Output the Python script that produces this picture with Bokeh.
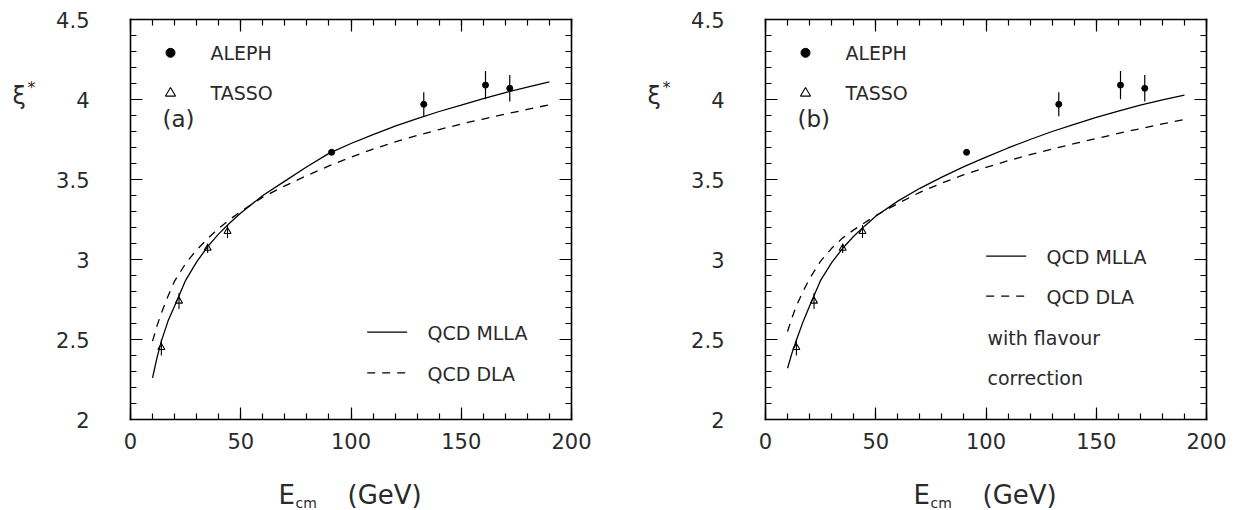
from bokeh.plotting import figure
from bokeh.models import Range1d, FixedTicker, LinearAxis, Label
from bokeh.layouts import row
from bokeh.embed import file_html
from bokeh.resources import INLINE

# ---------------- data ----------------
aleph_E = [91.2, 133.0, 161.0, 172.0]
aleph_xi = [3.67, 3.97, 4.09, 4.07]
aleph_err = [0.01, 0.075, 0.088, 0.083]

tasso_E = [14.0, 22.0, 35.0, 44.0]
tasso_xi = [2.45, 2.74, 3.07, 3.175]
tasso_err = [0.05, 0.05, 0.03, 0.04]

curve_E = [10, 12, 14, 17, 20, 25, 30, 35, 40, 45, 50, 60, 70, 80, 90,
           100, 110, 120, 130, 140, 150, 160, 170, 180, 190]
mlla_a = [2.26, 2.385, 2.49, 2.615, 2.71, 2.87, 2.985, 3.08, 3.16, 3.228, 3.29,
          3.40, 3.49, 3.58, 3.663, 3.725, 3.78, 3.833, 3.88, 3.925, 3.965,
          4.005, 4.043, 4.078, 4.11]
dla_a = [2.49, 2.585, 2.665, 2.77, 2.865, 2.975, 3.06, 3.13, 3.195, 3.25, 3.30,
         3.39, 3.46, 3.525, 3.585, 3.64, 3.69, 3.735, 3.775, 3.812, 3.847,
         3.878, 3.909, 3.938, 3.967]
mlla_b = [2.32, 2.415, 2.495, 2.61, 2.71, 2.87, 2.98, 3.07, 3.145, 3.21, 3.27,
          3.365, 3.445, 3.515, 3.58, 3.64, 3.697, 3.75, 3.80, 3.845, 3.888,
          3.928, 3.965, 3.997, 4.027]
dla_b = [2.55, 2.635, 2.71, 2.80, 2.88, 2.99, 3.07, 3.135, 3.185, 3.23, 3.275,
         3.35, 3.42, 3.478, 3.53, 3.576, 3.617, 3.655, 3.69, 3.724, 3.756,
         3.788, 3.818, 3.847, 3.875]

x_ticks = [0, 50, 100, 150, 200]
x_tick_labels = ["0", "50", "100", "150", "200"]
y_ticks = [2, 2.5, 3, 3.5, 4, 4.5]
y_tick_labels = ["2", "2.5", "3", "3.5", "4", "4.5"]

FONT = "DejaVu Sans"
TXT = "#2a2a2a"

X0, X1, Y0, Y1 = 0, 200, 2, 4.5
H = 510
FTOP, FBOT = 19, 419          # frame top/bottom (canvas px)
FW = 441                      # frame width px
SX = FW / (X1 - X0)           # px per GeV
SY = (FBOT - FTOP) / (Y1 - Y0)  # px per unit


def make_panel(mlla, dla, tag, W, L, variant):
    def dx(cx):
        return X0 + (cx - L) / SX

    def dy(cy):
        return Y0 + (FBOT - cy) / SY

    p = figure(width=W, height=H,
               x_range=Range1d(dx(0), dx(W)), y_range=Range1d(dy(H), dy(0)),
               x_axis_type=None, y_axis_type=None, min_border=0,
               output_backend="svg", toolbar_location=None)
    p.grid.visible = False
    p.outline_line_color = None

    xminor = [v for v in range(0, 201, 10)]
    yminor = [round(2 + 0.1 * i, 2) for i in range(26)]

    def mk_axis(ticks, minor, loc, bounds, show, overrides):
        ax = LinearAxis(ticker=FixedTicker(ticks=ticks, minor_ticks=minor),
                        fixed_location=loc, bounds=bounds)
        ax.major_tick_in = 12
        ax.major_tick_out = 0
        ax.minor_tick_in = 6
        ax.minor_tick_out = 0
        ax.axis_line_width = 1.6
        ax.axis_line_cap = "square"
        ax.major_tick_line_width = 1.2
        ax.minor_tick_line_width = 1.2
        ax.axis_line_color = "black"
        ax.major_tick_line_color = "black"
        ax.minor_tick_line_color = "black"
        if show:
            ax.major_label_text_font = FONT
            ax.major_label_text_font_size = "21px"
            ax.major_label_text_color = TXT
            ax.major_label_overrides = overrides
        else:
            ax.major_label_text_color = None
        return ax

    xo = {t: s for t, s in zip(x_ticks, x_tick_labels)}
    yo = {t: s for t, s in zip(y_ticks, y_tick_labels)}
    bottom = mk_axis(x_ticks, xminor, Y0, (X0, X1), True, xo)
    bottom.major_label_standoff = 13
    top = mk_axis(x_ticks, xminor, Y1, (X0, X1), False, xo)
    left = mk_axis(y_ticks, yminor, X0, (Y0, Y1), True, yo)
    left.major_label_standoff = 41
    right = mk_axis(y_ticks, yminor, X1, (Y0, Y1), False, yo)
    p.add_layout(bottom, "below")
    p.add_layout(top, "above")
    p.add_layout(left, "left")
    p.add_layout(right, "right")

    def lab(cx, cy, text, size="19px"):
        p.add_layout(Label(x=cx, y=H - cy, x_units="screen", y_units="screen", text=text,
                           text_font=FONT, text_font_size=size, text_color=TXT,
                           text_align="left", text_baseline="middle"))

    # curves
    p.line(curve_E, mlla, line_color="black", line_width=1.3)
    p.line(curve_E, dla, line_color="black", line_width=1.3, line_dash="8 7")

    # error bars and points
    p.segment(x0=aleph_E, y0=[v - e for v, e in zip(aleph_xi, aleph_err)],
              x1=aleph_E, y1=[v + e for v, e in zip(aleph_xi, aleph_err)],
              line_color="black", line_width=1.2)
    p.segment(x0=tasso_E, y0=[v - e for v, e in zip(tasso_xi, tasso_err)],
              x1=tasso_E, y1=[v + e for v, e in zip(tasso_xi, tasso_err)],
              line_color="black", line_width=1.1)
    p.scatter(aleph_E, aleph_xi, marker="circle", size=6, color="black")
    p.scatter(tasso_E, tasso_xi, marker="triangle", size=7, fill_color=None,
              line_color="black", line_width=1.1)

    # top-left legend
    p.scatter([dx(L + 40)], [dy(52.3)], marker="circle", size=9, color="black")
    p.scatter([dx(L + 40)], [dy(92.7)], marker="triangle", size=10, fill_color=None,
              line_color="black", line_width=1.1)
    lab(L + 80, 52.5, "ALEPH")
    lab(L + 80, 92.7, "TASSO")
    lab(L + 32, 118, tag, size="23px")

    # line legend
    if variant == "a":
        lx0, lx1, ly1, ly2, tx = L + 236.7, L + 276.7, 331.7, 372.3, L + 297
    else:
        lx0, lx1, ly1, ly2, tx = L + 220.7, L + 260.7, 255.7, 295.7, L + 281
    p.line([dx(lx0), dx(lx1)], [dy(ly1), dy(ly1)], line_color="black", line_width=1.3)
    p.line([dx(lx0), dx(lx1)], [dy(ly2), dy(ly2)], line_color="black", line_width=1.3,
           line_dash="8 7")
    lab(tx, ly1 + 1, "QCD MLLA")
    lab(tx, ly2 + 1, "QCD DLA")
    if variant == "b":
        lab(L + 222, 337.7, "with flavour")
        lab(L + 222, 377.7, "correction")

    # axis titles
    lab(L - 118, 95, "ξ", size="24px")
    lab(L - 103, 86.5, "*", size="16px")
    lab(L + 148, 494, "E", size="26px")
    lab(L + 165, 502.5, "cm", size="14px")
    lab(L + 217, 494, "(GeV)", size="26px")
    return p


pa = make_panel(mlla_a, dla_a, "(a)", 623, 130, "a")
pb = make_panel(mlla_b, dla_b, "(b)", 624, 142, "b")

layout = row(pa, pb)
open("out.html", "w").write(file_html(layout, INLINE))
